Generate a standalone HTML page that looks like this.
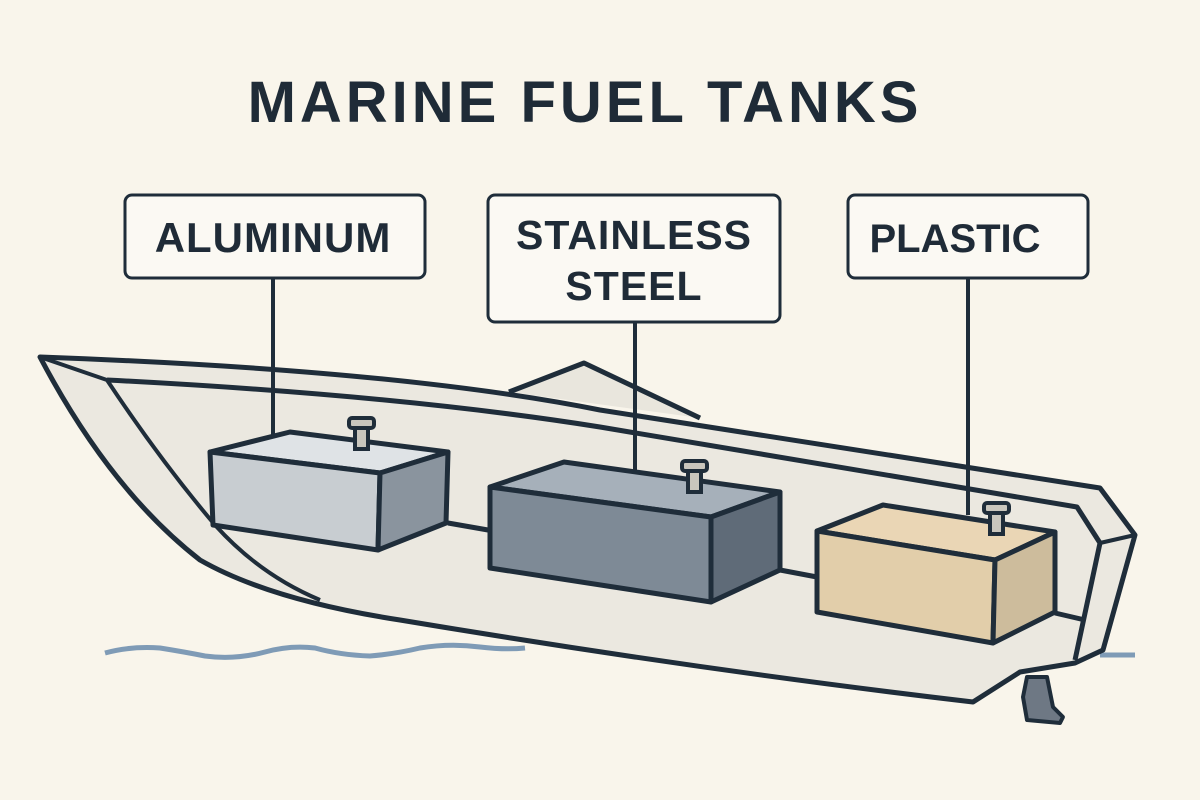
<!DOCTYPE html>
<html><head><meta charset="utf-8"><style>
html,body{margin:0;padding:0;background:#f9f5eb;}
svg{display:block}
text{font-family:"Liberation Sans",sans-serif;font-weight:bold;fill:#1f2b37}
</style></head><body>
<svg width="1200" height="800" viewBox="0 0 1200 800">
<rect width="1200" height="800" fill="#f9f5eb"/>
<text x="585" y="122" text-anchor="middle" font-size="58" letter-spacing="4">MARINE FUEL TANKS</text>
<!-- water -->
<path d="M105,653 Q130,646 160,648 Q185,652 205,656 Q235,660 265,652 Q290,645 315,648 Q340,655 370,656 Q395,654 420,648 Q450,643 480,647 Q505,650 525,648" stroke="#7f9bb6" stroke-width="5" fill="none"/>
<path d="M1100,655 L1135,655" stroke="#7f9bb6" stroke-width="5"/>
<!-- windshield -->
<path d="M509,392 L584,363 L700,418" fill="#e9e6dd" stroke="#1f2d3a" stroke-width="5" stroke-linejoin="round"/>
<!-- hull -->
<path d="M40,357 Q400,370 600,410 L1100,488 L1135,535 L1103,650 L1075,663 L1020,672 L973,702 Q700,670 400,620 Q270,600 200,560 Q110,490 40,357 Z" fill="#ebe8e0" stroke="#1f2d3a" stroke-width="5" stroke-linejoin="round"/>
<path d="M107,380 Q400,395 600,427 L1077,507 L1100,543 L1075,660" fill="none" stroke="#1f2d3a" stroke-width="5" stroke-linejoin="round"/>
<path d="M1100,543 L1135,535" fill="none" stroke="#1f2d3a" stroke-width="4"/>
<path d="M40,357 L107,380 Q160,460 215,525 Q260,575 320,600" fill="none" stroke="#1f2d3a" stroke-width="4"/>
<!-- keel line between tanks -->
<path d="M448,523 L488,530 M780,570 L817,577 M1055,613 L1085,620" stroke="#1f2d3a" stroke-width="5"/>
<!-- motor -->
<path d="M1027,677 L1047,677 L1053,707 L1063,717 L1060,723 L1027,720 L1023,697 Z" fill="#6e7884" stroke="#1f2d3a" stroke-width="4" stroke-linejoin="round"/>
<!-- leaders -->
<path d="M273,278 L273,436 M635,322 L635,470 M968,278 L968,515" stroke="#1f2d3a" stroke-width="4"/>
<!-- Aluminum tank -->
<g stroke="#1f2d3a" stroke-width="5" stroke-linejoin="round">
<path d="M210,452 L290,432 L448,452 L380,473 Z" fill="#dfe3e6"/>
<path d="M210,452 L380,473 L378,550 L213,525 Z" fill="#c8cdd1"/>
<path d="M380,473 L448,452 L446,523 L378,550 Z" fill="#8a949e"/>
</g>
<g stroke="#1f2d3a" stroke-width="4"><rect x="355" y="427" width="13" height="22" fill="#c9c6bd"/><rect x="349" y="418" width="25" height="10" rx="3" fill="#c9c6bd"/></g>
<!-- Stainless tank -->
<g stroke="#1f2d3a" stroke-width="5" stroke-linejoin="round">
<path d="M490,487 L564,462 L780,492 L711,517 Z" fill="#a6b0ba"/>
<path d="M490,487 L711,517 L711,602 L490,568 Z" fill="#7e8a96"/>
<path d="M711,517 L780,492 L780,570 L711,602 Z" fill="#5f6b78"/>
</g>
<g stroke="#1f2d3a" stroke-width="4"><rect x="688" y="470" width="13" height="22" fill="#c9c6bd"/><rect x="682" y="461" width="25" height="10" rx="3" fill="#c9c6bd"/></g>
<!-- Plastic tank -->
<g stroke="#1f2d3a" stroke-width="5" stroke-linejoin="round">
<path d="M817,531 L883,505 L1055,532 L995,560 Z" fill="#ead6b5"/>
<path d="M817,531 L995,560 L993,643 L817,612 Z" fill="#e2ceaa"/>
<path d="M995,560 L1055,532 L1055,612 L993,643 Z" fill="#cdbc9c"/>
</g>
<g stroke="#1f2d3a" stroke-width="4"><rect x="990" y="512" width="13" height="22" fill="#c9c6bd"/><rect x="984" y="503" width="25" height="10" rx="3" fill="#c9c6bd"/></g>
<!-- label boxes -->
<g fill="#fbf9f3" stroke="#1f2d3a" stroke-width="3">
<rect x="125" y="195" width="300" height="83" rx="7"/>
<rect x="488" y="195" width="292" height="127" rx="7"/>
<rect x="848" y="195" width="240" height="83" rx="7"/>
</g>
<text x="273" y="252" text-anchor="middle" font-size="42" letter-spacing="1">ALUMINUM</text>
<text x="634" y="249" text-anchor="middle" font-size="41" letter-spacing="1">STAINLESS</text>
<text x="634" y="300" text-anchor="middle" font-size="41" letter-spacing="1">STEEL</text>
<text x="955" y="252" text-anchor="middle" font-size="40">PLASTIC</text>
</svg>
</body></html>
